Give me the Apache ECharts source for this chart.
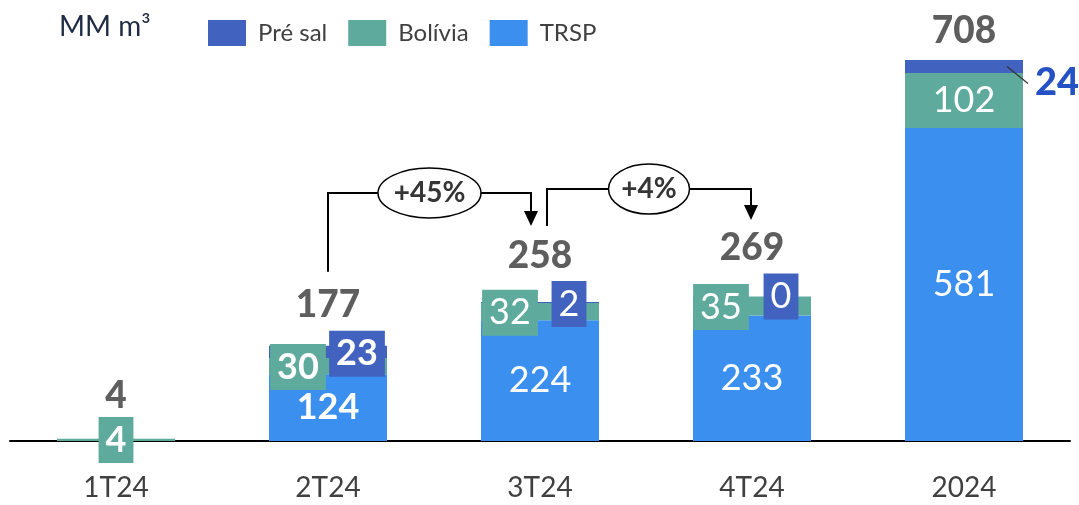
<!DOCTYPE html>
<html>
<head>
<meta charset="utf-8">
<script src="https://cdn.jsdelivr.net/npm/echarts@6/dist/echarts.min.js"></script>
<style>
html,body{margin:0;padding:0;background:#fff;}
#chart{width:1079px;height:505px;}
</style>
</head>
<body>
<div id="chart"></div>
<script>
// ---- data ----
const categories = ['1T24', '2T24', '3T24', '4T24', '2024'];
const trsp    = [0, 124, 224, 233, 581];
const bolivia = [4, 30, 32, 35, 102];
const preSal  = [0, 23, 2, 0, 24];
const totals  = [4, 177, 258, 269, 708];
const variationLabels = ['+45%', '+4%'];
const unitLabel = 'MM m\u00B3';

// ---- styles ----
const C_TRSP = '#3a8fef', C_BOL = '#5eab9e', C_PRE = '#4163bf';
const FONT = 'Lato';
const DARK = '#363636';

function boxLabel(color, dx, dy, bold) {
  return { show: true, position: 'inside', offset: [dx, dy], backgroundColor: color,
    padding: [4, 7], color: '#fff', fontSize: 36, lineHeight: 38,
    fontWeight: bold ? 'bold' : 'normal', fontFamily: FONT };
}
const plainLabel = (bold) => ({ show: true, position: 'inside', color: '#fff', fontSize: 36,
  fontWeight: bold ? 'bold' : 'normal', fontFamily: FONT });

const trspLabels = [{ show: false }, plainLabel(true), plainLabel(false), plainLabel(false), plainLabel(false)];
const bolLabels = [boxLabel(C_BOL, 0, 0, true), boxLabel(C_BOL, -30, 1, true),
  boxLabel(C_BOL, -30, 1, false), boxLabel(C_BOL, -31, 1, false), plainLabel(false)];
const preLabels = [{ show: false }, boxLabel(C_PRE, 29, 2, true), boxLabel(C_PRE, 29, 1.5, false),
  boxLabel(C_PRE, 29, 0, false),
  { show: true, position: 'right', distance: 12, offset: [0, 16], color: '#2451c4',
    fontSize: 38, fontWeight: 900, fontFamily: FONT }];
const totalOffsets = [-43, -41, -46, -48, -29];

function build(values, labels) {
  return values.map((v, i) => ({ value: v, label: labels[i] }));
}

const chart = echarts.init(document.getElementById('chart'), null, { renderer: 'canvas' });
chart.setOption({
  animation: false,
  textStyle: { fontFamily: FONT },
  title: { text: unitLabel, left: 54, top: 8,
    textStyle: { fontSize: 28, fontWeight: 'normal', color: '#1f2a44', fontFamily: FONT } },
  legend: { data: ['Pré sal', 'Bolívia', 'TRSP'], left: 203, top: 15, icon: 'rect',
    itemWidth: 38, itemHeight: 26, itemGap: 21,
    textStyle: { fontSize: 24, color: '#404040', fontFamily: FONT, padding: [0, 0, 0, 7] } },
  grid: { left: 10, right: 9, top: 10, bottom: 64 },
  xAxis: { type: 'category', data: categories,
    axisTick: { show: false },
    axisLine: { lineStyle: { color: '#000', width: 2 } },
    axisLabel: { fontSize: 28, color: '#404040', margin: 33, fontFamily: FONT } },
  yAxis: { type: 'value', min: 0, max: 800, show: false, splitLine: { show: false } },
  series: [
    { name: 'TRSP', type: 'bar', stack: 'g', barWidth: 118, itemStyle: { color: C_TRSP },
      data: build(trsp, trspLabels) },
    { name: 'Bolívia', type: 'bar', stack: 'g', barWidth: 118, itemStyle: { color: C_BOL },
      data: build(bolivia, bolLabels) },
    { name: 'Pré sal', type: 'bar', stack: 'g', barWidth: 118, itemStyle: { color: C_PRE },
      data: build(preSal, preLabels) },
    { name: 'Total', type: 'scatter', symbolSize: 1, itemStyle: { color: 'rgba(0,0,0,0)' },
      z: 5,
      data: totals.map((v, i) => ({ value: [categories[i], v],
        label: { show: true, position: 'inside', offset: [0, totalOffsets[i]],
          formatter: String(v), color: DARK, fontSize: 37, fontWeight: 900, fontFamily: FONT } })) }
  ]
});

// ---- annotations positioned through the axes ----
const px = i => chart.convertToPixel({ xAxisIndex: 0 }, categories[i]);
const py = v => chart.convertToPixel({ yAxisIndex: 0 }, v);
const arrowCfg = [
  { from: 1, to: 2, dxFrom: 0, dxTo: -9, startGap: 74, tipGap: 76, lineGap: 109, rx: 51.5 },
  { from: 2, to: 3, dxFrom: 7, dxTo: -1, startGap: 76, tipGap: 76, lineGap: 107, rx: 40.5 }
];
const g = [];
arrowCfg.forEach((a, k) => {
  const x1 = px(a.from) + a.dxFrom, x2 = px(a.to) + a.dxTo;
  const yLine = py(Math.max(totals[a.from], totals[a.to])) - a.lineGap;
  const yStart = py(totals[a.from]) - a.startGap;
  const yTip = py(totals[a.to]) - a.tipGap;
  g.push({ type: 'polyline', shape: { points: [[x1, yStart], [x1, yLine], [x2, yLine], [x2, yTip - 14]] },
    style: { stroke: '#000', lineWidth: 2, fill: null }, z: 10 });
  g.push({ type: 'polygon', shape: { points: [[x2 - 7, yTip - 15], [x2 + 7, yTip - 15], [x2, yTip]] },
    style: { fill: '#000' }, z: 10 });
  const cx = (x1 + x2) / 2;
  g.push({ type: 'ellipse', shape: { cx: cx, cy: yLine, rx: a.rx, ry: 25 },
    style: { fill: '#fff', stroke: '#000', lineWidth: 1.5 }, z: 11 });
  g.push({ type: 'text', x: cx, y: yLine, style: { text: variationLabels[k], align: 'center', verticalAlign: 'middle',
    font: 'bold 28px Lato', fill: DARK }, z: 12 });
});
// leader line for the 2024 Pré sal label
const x24 = px(4), ySeg = py(trsp[4] + bolivia[4] + preSal[4] / 2);
g.push({ type: 'line', shape: { x1: x24 + 43, y1: ySeg, x2: x24 + 64, y2: ySeg + 17 },
  style: { stroke: '#333', lineWidth: 1.2 }, z: 10 });
chart.setOption({ graphic: g });
</script>
</body>
</html>
